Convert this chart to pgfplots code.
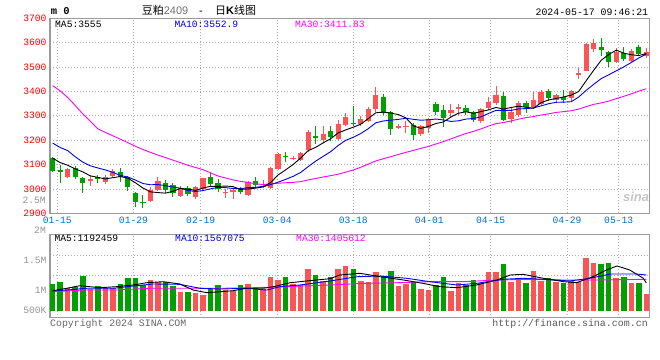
\documentclass[border=0pt]{standalone}
\usepackage{pgfplots}
\pgfplotsset{compat=1.18}
\usepackage{pgfplotstable}
\usepackage{fontspec}
\setmainfont{Liberation Sans}
\setmonofont{Liberation Mono}
\newfontfamily\cjk{Noto Sans CJK SC}
\newcommand\mono{\ttfamily\fontsize{9.7}{11}\selectfont}
\definecolor{cred}{RGB}{250,85,85}
\definecolor{cgreen}{RGB}{0,160,0}
\definecolor{datec}{RGB}{0,112,200}
\definecolor{framec}{RGB}{155,155,155}
\definecolor{gridc}{RGB}{175,175,175}
\definecolor{volc}{RGB}{150,150,150}
\definecolor{mablue}{RGB}{0,0,240}
\definecolor{mamag}{RGB}{255,0,255}

% i open high low close volume(M)
\pgfplotstableread{
i o h l c v
2 3050 3087 3045 3083 1.04
5 3034 3053 3012 3039 1.035
7 3027 3057 3019 3050 1.04
8 3055 3081 3048 3075 1.04
13 2952 3009 2948 2996 1.178
14 2996 3050 2990 3033 1.15
17 2972 3012 2968 3003 0.98
19 2966 3013 2957 3008 0.955
20 2998 3046 2996 3043 0.928
23 2984 2998 2962 2988 1.011
24 2990 3000 2960 2996 1.0
26 2975 3033 2972 3029 1.11
28 3009 3037 3003 3013 1.03
29 3003 3090 2998 3085 1.23
30 3080 3147 3078 3143 1.185
32 3123 3136 3118 3127 1.11
33 3119 3152 3113 3146 1.095
34 3160 3240 3153 3235 1.356
36 3201 3258 3190 3225 1.155
38 3204 3283 3201 3266 1.358
39 3262 3313 3258 3296 1.412
41 3266 3299 3258 3287 1.165
42 3280 3335 3276 3327 1.148
43 3328 3420 3317 3385 1.315
46 3253 3265 3247 3257 1.078
47 3255 3280 3230 3259 1.115
49 3224 3262 3218 3258 1.028
50 3249 3290 3228 3286 1.011
53 3313 3348 3294 3324 0.998
54 3331 3348 3299 3335 1.122
57 3280 3331 3270 3328 1.122
58 3331 3376 3324 3358 1.315
59 3351 3422 3344 3385 1.315
61 3287 3331 3270 3317 1.145
62 3303 3362 3296 3354 1.185
64 3338 3399 3334 3365 1.328
65 3348 3407 3344 3399 1.162
67 3365 3390 3355 3385 1.145
69 3375 3406 3358 3402 1.162
70 3470 3495 3451 3474 1.15
71 3485 3597 3482 3593 1.55
72 3573 3615 3563 3600 1.467
75 3522 3580 3515 3563 1.212
77 3526 3575 3520 3566 1.133
79 3547 3580 3536 3560 0.945
}\redtab

\pgfplotstableread{
i o h l c v
0 3128 3132 3068 3072 1.11
1 3078 3098 3025 3073 1.145
3 3087 3095 3040 3048 1.055
4 3045 3050 2985 3025 1.245
6 3047 3057 3026 3042 1.078
9 3070 3085 3030 3048 1.11
10 3048 3055 2993 3006 1.207
11 2982 2988 2927 2948 1.207
12 2947 2975 2923 2942 1.095
15 3026 3037 2985 2995 1.15
16 3018 3026 2968 2984 1.08
18 3003 3012 2970 2980 0.983
21 3050 3067 3012 3020 1.022
22 3023 3039 2989 3000 1.095
25 2998 3007 2980 2986 1.095
27 3034 3050 3008 3017 1.04
31 3137 3153 3110 3133 1.225
35 3216 3258 3184 3212 1.262
37 3239 3258 3198 3212 1.228
40 3271 3340 3258 3267 1.36
44 3378 3389 3303 3310 1.24
45 3317 3321 3221 3246 1.33
48 3262 3269 3201 3222 1.15
51 3348 3357 3303 3317 1.095
52 3324 3344 3253 3290 1.225
55 3331 3344 3303 3317 1.1
56 3317 3320 3276 3283 1.178
60 3381 3399 3280 3283 1.445
63 3354 3362 3313 3335 1.128
66 3402 3410 3361 3372 1.212
68 3379 3404 3354 3366 1.133
73 3581 3618 3547 3570 1.452
74 3561 3566 3501 3520 1.467
76 3556 3584 3525 3533 1.23
78 3584 3590 3550 3554 1.133
}\greentab

% price moving averages: i ma5 ma10 ma30
\pgfplotstableread{
i a b c
0 3126 3188 3424
1 3108 3170 3402
2 3097 3157 3375
3 3082 3132 3342
4 3070 3110 3308
5 3053.6 3095 3278
6 3047.4 3086 3247
7 3040.8 3078 3232
8 3046.2 3068 3218
9 3050.8 3055.5 3204
10 3044.2 3048.9 3190
11 3025.4 3036.4 3175
12 3003.8 3022.3 3162
13 2988 3017.1 3150
14 2985 3017.9 3139
15 2982.8 3013.5 3129
16 2990 3007.7 3118
17 3002.2 3003 3108
18 2999 2993.5 3097
19 2994 2989.5 3088
20 3003.6 2993.2 3079
21 3010.8 3000.4 3066
22 3010.2 3006.2 3053
23 3011.8 3005.4 3045
24 3009.4 3001.7 3037
25 2998 3000.8 3031
26 2999.8 3005.3 3027
27 3003.2 3006.7 3021
28 3008.2 3010 3018
29 3026 3017.7 3020.9
30 3057.4 3027.7 3023.3
31 3078.2 3039 3025.3
32 3100.2 3051.7 3026.7
33 3126.8 3067.5 3030
34 3156.8 3091.4 3037
35 3170.6 3114 3042.8
36 3189 3133.6 3048.9
37 3206 3153.1 3054.3
38 3230 3178.4 3060.6
39 3242.2 3199.5 3068.9
40 3253.2 3211.9 3077.6
41 3265.6 3227.3 3088.9
42 3288.6 3247.3 3101.7
43 3312.4 3271.2 3114.7
44 3315.2 3278.7 3123.9
45 3311 3282.1 3132.3
46 3305 3285.3 3141.4
47 3291.4 3290 3149.9
48 3258.8 3285.6 3158
49 3248.4 3281.8 3166.3
50 3256.4 3283.7 3174.4
51 3268.4 3286.7 3184.3
52 3274.6 3283 3194
53 3295 3276.9 3205.2
54 3310.4 3279.4 3216.5
55 3316.6 3286.5 3227.5
56 3309.8 3289.1 3236
57 3317.4 3296 3246.4
58 3324.2 3309.6 3257.9
59 3334.2 3322.3 3267.9
60 3327.4 3322 3272.5
61 3334.2 3322 3278.7
62 3339.4 3328.4 3286.2
63 3334.8 3329.5 3292.5
64 3330.8 3332.5 3296.9
65 3354 3340.7 3303.1
66 3365 3349.6 3308
67 3371.2 3355.3 3313.8
68 3377.4 3356.1 3317.1
69 3384.8 3357.8 3320.6
70 3399.8 3376.9 3327.5
71 3444 3404.5 3337.7
72 3487 3429.1 3346.8
73 3527.8 3452.6 3353
74 3551.4 3468.1 3360
75 3569.2 3484.5 3370.6
76 3557.2 3500.6 3379.8
77 3550.4 3518.7 3390
78 3547.2 3537.5 3401.1
79 3555.2 3553.3 3411.1
}\matab

\pgfplotstableread{
i m
0 1.0
1.86 1.04
3.6 1.083
6.3 1.05
8.5 1.067
10.7 1.095
12.5 1.133
14.7 1.15
16.9 1.112
18.7 1.011
20.5 0.967
22.3 0.983
24.0 1.0
25.8 1.04
28.0 1.04
29.4 1.067
31.6 1.133
33.8 1.162
36.9 1.2
38.2 1.262
40.9 1.29
43.6 1.233
46.7 1.178
49.3 1.122
51.5 1.067
53.8 1.05
56.4 1.095
59.1 1.178
60.9 1.262
62.6 1.273
65.3 1.207
68.0 1.15
69.7 1.133
71.9 1.233
73.7 1.345
75.1 1.412
76.8 1.345
78.6 1.207
79 1.13
}\vmafive

\pgfplotstableread{
i m
0 0.995
1.86 1.011
4.5 1.04
8.1 1.04
10.7 1.078
13.4 1.112
16.95 1.106
19.6 1.04
22.3 1.028
25.8 1.04
28.5 1.011
30.25 1.067
32.9 1.095
35.6 1.14
36.9 1.162
40.5 1.233
43.6 1.245
47.1 1.207
50.2 1.15
53.8 1.095
56.4 1.122
60.0 1.19
62.6 1.207
65.3 1.19
68.8 1.162
71.5 1.207
74.2 1.278
77.7 1.278
79 1.262
}\vmaten

\pgfplotstableread{
i m
0 0.983
4.1 1.011
8.5 1.011
12.9 1.04
17.8 1.04
22.3 1.04
26.7 1.05
31.1 1.067
36.9 1.095
41.3 1.122
45.8 1.133
50.2 1.15
54.6 1.15
59.1 1.178
63.5 1.19
68.0 1.178
72.4 1.178
79 1.19
}\vmathirty

\pgfplotsset{
  kaxis/.style={
    scale only axis, width=599.3bp,
    xmin=-0.36, xmax=79.4, enlargelimits=false,
    axis line style={draw=framec, line width=1.2bp},
    major tick length=0pt,
    xmajorgrids, ymajorgrids,
    grid style={draw=gridc, line width=0.8bp, dash pattern=on 1bp off 2bp},
    xtick={0.61,10.75,19.7,29.89,40.0,50.12,58.29,68.45,75.33},
    tick label style={font=\mono},
  },
  candle/.style 2 args={draw=none, mark=none, forget plot,
    error bars/.cd, y dir=both, y explicit, error mark=none,
    error bar style={draw=#1, line width=#2}},
}

\begin{document}
\begin{tikzpicture}
\path[use as bounding box, fill=white] (0,0) rectangle (660bp,360bp);

% ---------- price panel ----------
\begin{axis}[kaxis, at={(50bp,146.7bp)}, anchor=south west, height=195bp,
  ymin=2900, ymax=3700,
  ytick={2900,3000,3100,3200,3300,3400,3500,3600,3700},
  yticklabels={2900,3000,3100,3200,3300,3400,3500,3600,3700},
  yticklabel style={text=red},
  xticklabels={01-15,01-29,02-19,03-04,03-18,04-01,04-15,04-29,05-13},
  xticklabel style={text=datec}]
\addplot[candle={cred}{1bp}] table[x=i, y expr={(\thisrow{h}+\thisrow{l})/2}, y error expr={(\thisrow{h}-\thisrow{l})/2}] {\redtab};
\addplot[candle={cred}{5.3bp}] table[x=i, y expr={(\thisrow{o}+\thisrow{c})/2}, y error expr={abs(\thisrow{c}-\thisrow{o})/2}] {\redtab};
\addplot[candle={cgreen}{1bp}] table[x=i, y expr={(\thisrow{h}+\thisrow{l})/2}, y error expr={(\thisrow{h}-\thisrow{l})/2}] {\greentab};
\addplot[candle={cgreen}{5.3bp}] table[x=i, y expr={(\thisrow{o}+\thisrow{c})/2}, y error expr={abs(\thisrow{c}-\thisrow{o})/2}] {\greentab};
\addplot[mamag, line width=0.9bp, mark=none] table[x=i, y=c] {\matab};
\addplot[mablue, line width=0.9bp, mark=none] table[x=i, y=b] {\matab};
\addplot[black, line width=0.9bp, mark=none] table[x=i, y=a] {\matab};
\end{axis}

% ---------- volume panel ----------
\begin{axis}[kaxis, at={(50bp,42.3bp)}, anchor=south west, height=83.4bp,
  ymin=0.55, ymax=1.94,
  ytick={0.928,1.262,1.595}, yticklabels={},
  xticklabels={},
  yticklabel style={text=volc},
  extra y ticks={0.6667,1,1.5}, extra y tick labels={500K,1M,1.5M},
  extra y tick style={grid=none}]
\addplot[candle={cred}{5.5bp}] table[x=i, y expr={(\thisrow{v}+0.6667)/2}, y error expr={(\thisrow{v}-0.6667)/2}] {\redtab};
\addplot[candle={cgreen}{5.5bp}] table[x=i, y expr={(\thisrow{v}+0.6667)/2}, y error expr={(\thisrow{v}-0.6667)/2}] {\greentab};
\addplot[mamag, line width=0.9bp, mark=none] table[x=i, y=m] {\vmathirty};
\addplot[mablue, line width=0.9bp, mark=none] table[x=i, y=m] {\vmaten};
\addplot[black, line width=0.9bp, mark=none] table[x=i, y=m] {\vmafive};
\end{axis}

% ---------- texts ----------
\node[anchor=base west, font=\ttfamily\bfseries\fontsize{10.5}{12}\selectfont, inner sep=0] at (50.7bp,345bp) {m 0};
\node[anchor=base west, inner sep=0, font=\fontsize{11}{12}\selectfont] at (141.7bp,345bp) {{\cjk 豆粕}\textcolor{black!55}{2409}};
\node[anchor=base, inner sep=0, font=\fontsize{11}{12}\selectfont] at (201bp,345bp) {-};
\node[anchor=base west, inner sep=0, font=\fontsize{11}{12}\selectfont] at (215bp,345bp) {{\cjk 日}\textbf{K}{\cjk 线图}};
\node[anchor=base east, inner sep=0, font=\ttfamily\fontsize{9.9}{11}\selectfont] at (648.3bp,344bp) {2024-05-17 09:46:21};

\node[anchor=base west, inner sep=0, font=\mono] at (55bp,332.7bp) {MA5:3555};
\node[anchor=base west, inner sep=0, font=\mono, text=mablue] at (174.3bp,332.7bp) {MA10:3552.9};
\node[anchor=base west, inner sep=0, font=\mono, text=mamag] at (295bp,332.7bp) {MA30:3411.83};

\node[anchor=base west, inner sep=0, font=\mono] at (54.3bp,118.4bp) {MA5:1192459};
\node[anchor=base west, inner sep=0, font=\mono, text=mablue] at (175bp,118.4bp) {MA10:1567075};
\node[anchor=base west, inner sep=0, font=\mono, text=mamag] at (296bp,118.4bp) {MA30:1405612};

\node[anchor=base east, inner sep=0, font=\mono, text=volc] at (46bp,156bp) {2.5M};
\node[anchor=base east, inner sep=0, font=\mono, text=volc] at (46bp,126bp) {2M};

\node[anchor=base west, inner sep=0, font=\ttfamily\fontsize{9.9}{11}\selectfont, text=black!60] at (50bp,33.4bp) {Copyright 2024 SINA.COM};
\node[anchor=base east, inner sep=0, font=\ttfamily\fontsize{10}{11}\selectfont, text=black!65] at (648bp,33.4bp) {http://finance.sina.com.cn};

\node[font=\bfseries\itshape\fontsize{13}{13}\selectfont, text=black!22] at (636bp,163bp) {sina};
\end{tikzpicture}
\end{document}
